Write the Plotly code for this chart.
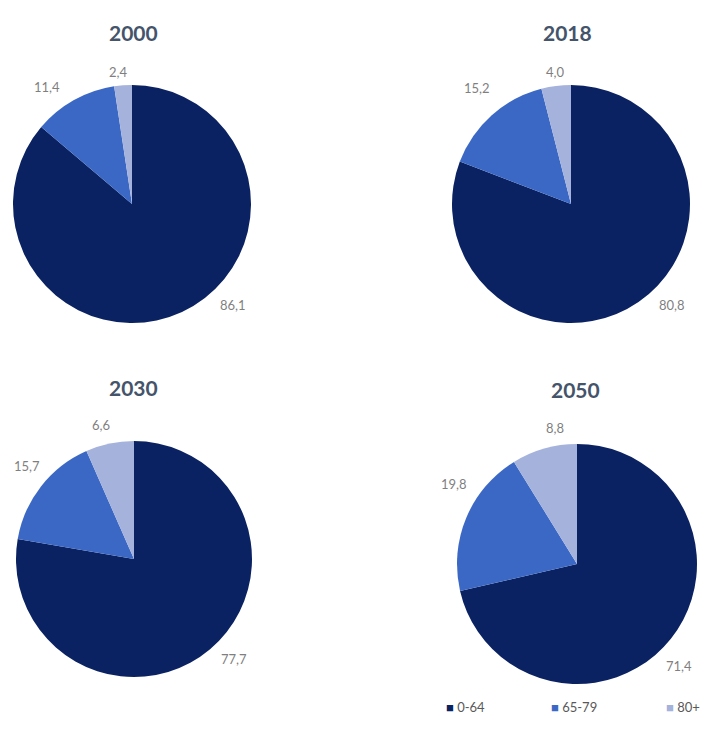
import math
import plotly.graph_objects as go

# Population share by age group (%), per year
years = ["2000", "2018", "2030", "2050"]
age_groups = ["0-64", "65-79", "80+"]
share_2000 = [86.1, 11.4, 2.4]
share_2018 = [80.8, 15.2, 4.0]
share_2030 = [77.7, 15.7, 6.6]
share_2050 = [71.4, 19.8, 8.8]
shares = [share_2000, share_2018, share_2030, share_2050]

colors = ["#0b2262", "#3b68c4", "#a4b2dc"]
W, H = 701, 740

# pie centre (px) and radius (px), title position, and the placement of each
# data label as (angle clockwise from 12 o'clock in degrees, distance from centre in px)
panels = [
    dict(cx=132, cy=204, r=119, tx=133, ty=32,
         lab=[(135, 143), (-36, 145), (-6, 133)]),
    dict(cx=571, cy=204, r=119, tx=567, ty=32,
         lab=[(135, 143), (-39, 149), (-7, 133)]),
    dict(cx=134, cy=559, r=118, tx=133, ty=387,
         lab=[(135, 142), (-49, 142), (-14, 138)]),
    dict(cx=577, cy=564, r=120, tx=575, ty=390,
         lab=[(135, 144), (-57, 147), (-9, 138)]),
]


def px_x(x):
    return x / W


def px_y(y):
    return 1 - y / H


def fmt(v):
    return f"{v:.1f}".replace(".", ",")


fig = go.Figure()
annotations = []

for year, vals, p in zip(years, shares, panels):
    cx, cy, r = p["cx"], p["cy"], p["r"]
    fig.add_trace(go.Pie(
        labels=age_groups,
        values=vals,
        sort=False,
        direction="clockwise",
        rotation=0,
        marker=dict(colors=colors, line=dict(width=0)),
        textinfo="none",
        hoverinfo="label+value",
        showlegend=False,
        domain=dict(x=[px_x(cx - r), px_x(cx + r)],
                    y=[px_y(cy + r), px_y(cy - r)]),
    ))
    annotations.append(dict(
        x=px_x(p["tx"]), y=px_y(p["ty"]), xref="paper", yref="paper",
        text=f"<b>{year}</b>", showarrow=False,
        xanchor="center", yanchor="middle",
        font=dict(family="Lato", size=21, color="#44546a"),
    ))
    for v, (ang, d) in zip(vals, p["lab"]):
        a = math.radians(ang)
        lx = cx + d * math.sin(a)
        ly = cy - d * math.cos(a)
        annotations.append(dict(
            x=px_x(lx), y=px_y(ly), xref="paper", yref="paper",
            text=fmt(v), showarrow=False,
            xanchor="center", yanchor="middle",
            font=dict(family="Lato", size=13, color="#7f7f7f"),
        ))

# legend row
legend_x = [444, 549, 664]
for name, col, lx in zip(age_groups, colors, legend_x):
    annotations.append(dict(
        x=px_x(lx), y=px_y(707), xref="paper", yref="paper",
        text=f"<span style='color:{col}'>■</span> {name}",
        showarrow=False, xanchor="left", yanchor="middle",
        font=dict(family="Lato", size=13, color="#595959"),
    ))

fig.update_layout(
    width=W, height=H,
    margin=dict(l=0, r=0, t=0, b=0),
    paper_bgcolor="white",
    plot_bgcolor="white",
    annotations=annotations,
)

fig.write_html("out.html")
